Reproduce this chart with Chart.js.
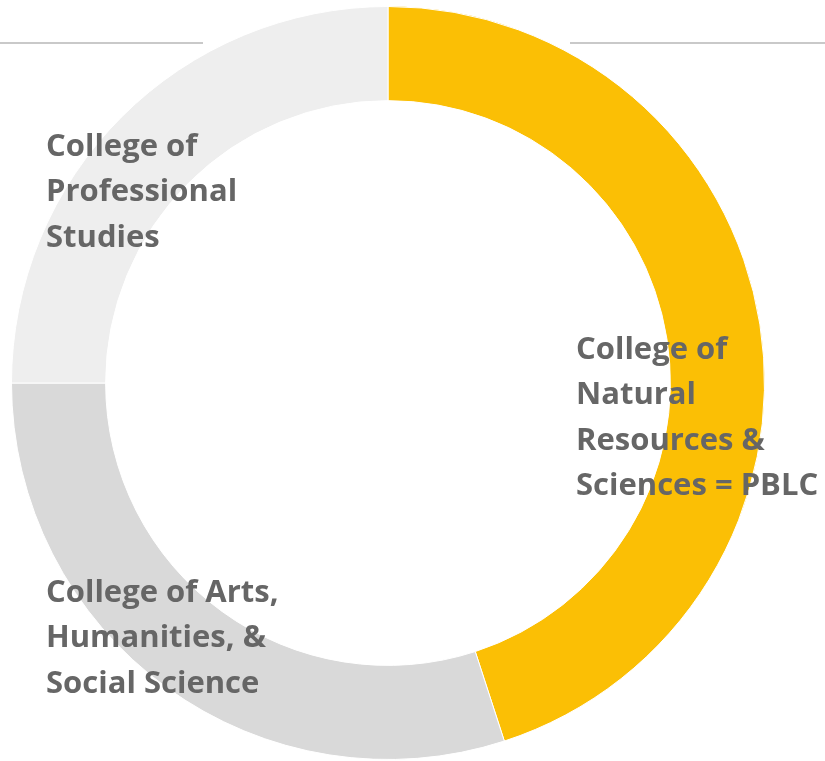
<!DOCTYPE html>
<html>
<head>
<meta charset="utf-8">
<script src="https://cdn.jsdelivr.net/npm/chart.js@4"></script>
<style>
  html, body { margin: 0; padding: 0; background: #fff; }
  #wrap { width: 825px; height: 761px; position: relative; }
</style>
</head>
<body>
<div id="wrap"><canvas id="chart1"></canvas></div>
<script>
const colleges = [
    'College of Natural Resources & Sciences = PBLC',
    'College of Arts, Humanities, & Social Science',
    'College of Professional Studies'
];
const shares = [45, 30, 25];
const labelLines = [
    ['College of', 'Natural', 'Resources &', 'Sciences = PBLC'],
    ['College of Arts,', 'Humanities, &', 'Social Science'],
    ['College of', 'Professional', 'Studies']
];

// where each label's first line sits (left x, middle y of first line)
const labelSpots = [[576, 350], [46, 593], [46, 147]];

const sliceLabels = {
    id: 'sliceLabels',
    beforeDatasetsDraw(chart) {
        const ctx = chart.ctx;
        ctx.save();
        ctx.strokeStyle = '#c9c9c9';
        ctx.lineWidth = 2;
        ctx.beginPath();
        ctx.moveTo(0, 43); ctx.lineTo(203, 43);
        ctx.moveTo(570, 43); ctx.lineTo(825, 43);
        ctx.stroke();
        ctx.restore();
    },
    afterDraw(chart) {
        const ctx = chart.ctx;
        ctx.save();
        ctx.fillStyle = '#666666';
        ctx.font = 'bold 31px "Open Sans"';
        ctx.textBaseline = 'middle';
        ctx.textAlign = 'left';
        labelLines.forEach((lines, i) => {
            const [x, y] = labelSpots[i];
            lines.forEach((t, j) => ctx.fillText(t, x, y + j * 45.5));
        });
        ctx.restore();
    }
};

const chart1Ctx = document.getElementById("chart1").getContext("2d");
const chart1 = new Chart(chart1Ctx, {
    type: 'doughnut',
    data: {
        labels: colleges,
        datasets: [{
            data: shares,
            backgroundColor: ['#FBBF05', '#D9D9D9', '#EEEEEE'],
            borderColor: '#ffffff',
            borderWidth: 1
        }]
    },
    options: {
        responsive: true,
        maintainAspectRatio: false,
        animation: false,
        cutout: '75%',
        layout: { padding: { left: 11, right: 60, top: 5, bottom: 0 } },
        plugins: {
            legend: { display: false },
            tooltip: { enabled: false }
        }
    },
    plugins: [sliceLabels]
});
</script>
</body>
</html>
